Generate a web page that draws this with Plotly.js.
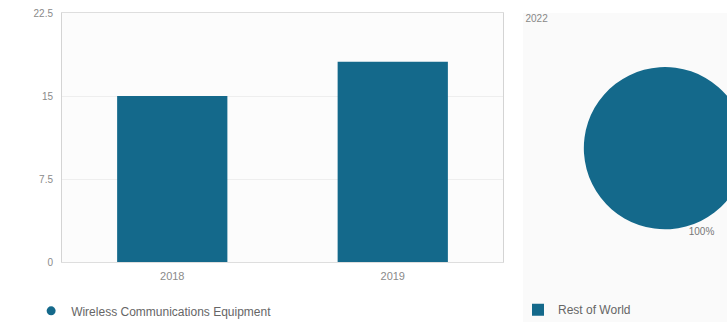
<!DOCTYPE html>
<html>
<head>
<meta charset="utf-8">
<script src="https://cdn.plot.ly/plotly-3.0.1.min.js"></script>
<style>
html,body{margin:0;padding:0;background:#fff;width:727px;height:322px;overflow:hidden;position:relative;}
#bar{position:absolute;left:0;top:0;width:512px;height:322px;}
#pie{position:absolute;left:523px;top:13px;width:250px;height:309px;}
</style>
</head>
<body>
<div id="bar"></div>
<div id="pie"></div>
<script>
const years = ['2018', '2019'];
const segmentValues = [15.0, 18.1];
const segmentName = 'Wireless Communications Equipment';
const yTicks = [0, 7.5, 15, 22.5];
const yTickText = ['0', '7.5', '15', '22.5'];
const pieTitle = '2022';
const regionLabels = ['Rest of World'];
const regionValues = [100];

const teal = '#14698b';
const font = {family: 'Liberation Sans, Arial, sans-serif', size: 11, color: '#8a8a8a'};

Plotly.newPlot('bar', [
  {type: 'bar', x: years, y: segmentValues, marker: {color: teal}, width: 0.5, showlegend: false, hoverinfo: 'y'},
  {type: 'scatter', mode: 'markers', x: [null], y: [null], name: segmentName,
   marker: {color: teal, size: 9, symbol: 'circle'}, showlegend: true}
], {
  width: 512, height: 322,
  margin: {l: 62, r: 9, t: 13, b: 60, autoexpand: false},
  paper_bgcolor: '#ffffff', plot_bgcolor: '#fcfcfc',
  font: font,
  xaxis: {type: 'category', showline: true, mirror: true, linecolor: '#dedede', linewidth: 1,
          ticks: 'outside', ticklen: 4, tickcolor: 'rgba(0,0,0,0)', tickfont: {size: 11, color: '#8a8a8a'}, showgrid: false},
  yaxis: {range: [0, 22.5], tickvals: yTicks, ticktext: yTickText, showline: true, mirror: true,
          linecolor: '#d4d4d4', linewidth: 1, gridcolor: '#eeeeee', zeroline: false,
          tickfont: {size: 10, color: '#8a8a8a'}, ticklen: 6, ticks: 'outside', tickcolor: 'rgba(0,0,0,0)'},
  legend: {orientation: 'h', x: -0.07, xanchor: 'left', y: -0.138, yanchor: 'top',
           font: {size: 12, color: '#666666'}, bgcolor: 'rgba(0,0,0,0)'}
}, {displayModeBar: false, staticPlot: true});

Plotly.newPlot('pie', [
  {type: 'pie', labels: regionLabels, values: regionValues, marker: {colors: [teal], line: {width: 0}},
   textinfo: 'percent', textposition: 'outside', rotation: -15, sort: false,
   outsidetextfont: {size: 10, color: '#777777'},
   domain: {x: [0.236, 0.9], y: [0.3, 0.825]}, automargin: false}
], {
  width: 250, height: 309,
  margin: {l: 0, r: 0, t: 0, b: 0, autoexpand: false},
  paper_bgcolor: '#fafafa',
  font: font,
  title: {text: pieTitle, x: 0.01, xanchor: 'left', y: 0.995, yanchor: 'top', font: {size: 10, color: '#888888'}},
  legend: {orientation: 'h', x: -0.02, xanchor: 'left', y: 0.04, yanchor: 'middle',
           font: {size: 12, color: '#666666'}, bgcolor: 'rgba(0,0,0,0)'},
  showlegend: true
}, {displayModeBar: false, staticPlot: true});
</script>
</body>
</html>
